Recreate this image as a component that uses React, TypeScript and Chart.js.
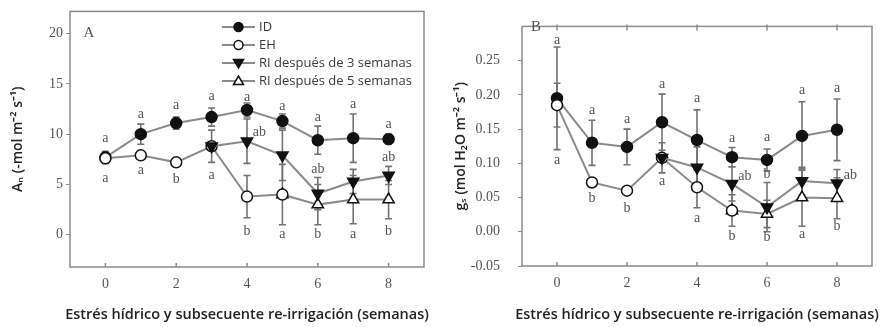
import React, { useEffect, useRef } from 'react';
import { Chart, registerables } from 'chart.js';
Chart.register(...registerables);

// ---------- data ----------
const seriesNames = ['ID', 'EH', 'RI después de 3 semanas', 'RI después de 5 semanas'];
const xAxisTitle = 'Estrés hídrico y subsecuente re-irrigación (semanas)';
const weeks = [0, 1, 2, 3, 4, 5, 6, 7, 8];
const ehWeeks = [0, 1, 2, 3, 4, 5];
const ri3Weeks = [3, 4, 5, 6, 7, 8];
const ri5Weeks = [5, 6, 7, 8];
const xTicks = [0, 2, 4, 6, 8];

// Panel A: An
const idA = [7.7, 10.0, 11.1, 11.7, 12.4, 11.3, 9.4, 9.6, 9.5];
const idAErr = [0.6, 1.0, 0.6, 0.9, 0.7, 0.7, 1.4, 2.4, 0.5];
const ehA = [7.6, 7.9, 7.2, 8.8, 3.8, 4.0];
const ehAErr = [0.5, 0, 0, 0, 2.1, 3.0];
const ri3A = [8.8, 9.3, 7.9, 4.1, 5.3, 5.9];
const ri3AErr = [1.6, 2.2, 2.5, 1.6, 1.2, 0.9];
const ri5A = [4.0, 3.0, 3.5, 3.5];
const ri5AErr = [0, 2.0, 2.4, 1.9];
const yTicksA = [0, 5, 10, 15, 20];
const lettersA: [number, number, string][] = [
  [0, 9.55, 'a'], [0, 5.6, 'a'],
  [1, 12.0, 'a'], [1, 6.4, 'a'],
  [2, 12.9, 'a'], [2, 5.5, 'b'],
  [3, 13.8, 'a'], [3, 5.9, 'a'],
  [4, 13.7, 'a'], [4.35, 10.2, 'ab'], [4, 0.3, 'b'],
  [5, 12.8, 'a'], [5, 0.0, 'a'],
  [6, 11.65, 'a'], [6, 6.5, 'ab'], [6, 0.0, 'b'],
  [7, 13.0, 'a'], [7, 0.0, 'a'],
  [8, 11.0, 'a'], [8, 7.7, 'ab'], [8, 0.3, 'b'],
];

// Panel B: gs
const idB = [0.195, 0.130, 0.124, 0.160, 0.134, 0.109, 0.105, 0.140, 0.149];
const idBErr = [0.075, 0.033, 0.026, 0.041, 0.044, 0.014, 0.016, 0.050, 0.045];
const ehB = [0.185, 0.072, 0.060, 0.108, 0.065, 0.031];
const ehBErr = [0.032, 0, 0, 0, 0.030, 0.023];
const ri3B = [0.108, 0.094, 0.070, 0.036, 0.074, 0.071];
const ri3BErr = [0.022, 0.030, 0.025, 0.036, 0.020, 0.020];
const ri5B = [0.031, 0.026, 0.050, 0.049];
const ri5BErr = [0, 0.020, 0.042, 0.030];
const yTicksB = [-0.05, 0, 0.05, 0.1, 0.15, 0.2, 0.25];
const lettersB: [number, number, string][] = [
  [0, 0.279, 'a'], [0, 0.105, 'a'],
  [1, 0.178, 'a'], [1, 0.049, 'b'],
  [2, 0.164, 'a'], [2, 0.034, 'b'],
  [3, 0.216, 'a'], [3, 0.073, 'a'],
  [4, 0.195, 'a'], [4, 0.019, 'a'],
  [5, 0.137, 'a'], [5.37, 0.081, 'ab'], [5, -0.006, 'b'],
  [6, 0.138, 'a'], [6, 0.084, 'b'], [6, -0.008, 'b'],
  [7, 0.206, 'a'], [7, -0.004, 'a'],
  [8, 0.209, 'a'], [8.38, 0.083, 'ab'], [8, 0.008, 'b'],
];

// ---------- styles ----------
const LINE = 'rgb(138,138,138)';
const MARK = '#111';
const AXIS = '#8a8a8a';
const ERR = '#727272';
const TXT = '#555';
const TITLE_FONT = '"Open Sans", sans-serif';
const SERIF = '"Liberation Serif", "DejaVu Serif", serif';

const pts = (xs: number[], ys: number[]) => xs.map((x, i) => ({ x, y: ys[i] }));

function makeDatasets(id: number[], idE: number[], eh: number[], ehE: number[], r3: number[], r3E: number[], r5: number[], r5E: number[]) {
  const base = { borderColor: LINE, borderWidth: 2, pointBorderColor: MARK, pointBorderWidth: 1.5 };
  return [
    { ...base, label: seriesNames[0], data: pts(weeks, id), errors: idE, pointStyle: 'circle', pointRadius: 5.5, pointBackgroundColor: MARK, order: 3 },
    { ...base, label: seriesNames[1], data: pts(ehWeeks, eh), errors: ehE, pointStyle: 'circle', pointRadius: 5.5, pointBackgroundColor: '#fff', order: 1 },
    { ...base, label: seriesNames[2], data: pts(ri3Weeks, r3), errors: r3E, pointStyle: 'triangle', rotation: 180, pointRadius: 6.5, pointBackgroundColor: MARK, order: 0 },
    { ...base, label: seriesNames[3], data: pts(ri5Weeks, r5), errors: r5E, pointStyle: 'triangle', pointRadius: 6.5, pointBackgroundColor: '#fff', order: 2 },
  ];
}

function drawMarker(ctx: CanvasRenderingContext2D, kind: number, x: number, y: number) {
  ctx.save();
  ctx.lineWidth = 1.5;
  ctx.strokeStyle = MARK;
  ctx.fillStyle = kind === 0 || kind === 2 ? MARK : '#fff';
  ctx.beginPath();
  if (kind < 2) {
    ctx.arc(x, y, 4.5, 0, Math.PI * 2);
  } else if (kind === 2) {
    ctx.moveTo(x - 5, y - 3.5); ctx.lineTo(x + 5, y - 3.5); ctx.lineTo(x, y + 5); ctx.closePath();
  } else {
    ctx.moveTo(x - 5, y + 3.5); ctx.lineTo(x + 5, y + 3.5); ctx.lineTo(x, y - 5); ctx.closePath();
  }
  ctx.fill(); ctx.stroke();
  ctx.restore();
}

type Cfg = {
  key: string; width: number; yWidth: number; xHeight: number; padTop: number; padRight: number;
  yMin: number; yMax: number; yTicks: number[]; yFmt: (v: number) => string; yTickPad: number;
  yTitle: string; yTitlePad: number; letters: [number, number, string][]; panel: string;
  panelPos: [number, number]; legend: boolean; topTicks: boolean; datasets: any[];
};

function decor(cfg: Cfg) {
  return {
    id: 'decor' + cfg.key,
    beforeDatasetsDraw(chart: any) {
      const { ctx, scales: { x, y } } = chart;
      ctx.save();
      ctx.strokeStyle = ERR;
      ctx.lineWidth = 1.6;
      chart.data.datasets.forEach((ds: any) => {
        ds.data.forEach((p: any, i: number) => {
          const e = ds.errors[i];
          if (!e) return;
          const px = x.getPixelForValue(p.x);
          const y1 = y.getPixelForValue(p.y + e);
          const y2 = y.getPixelForValue(p.y - e);
          ctx.beginPath();
          ctx.moveTo(px, y1); ctx.lineTo(px, y2);
          ctx.moveTo(px - 3.5, y1); ctx.lineTo(px + 3.5, y1);
          ctx.moveTo(px - 3.5, y2); ctx.lineTo(px + 3.5, y2);
          ctx.stroke();
        });
      });
      ctx.restore();
    },
    afterDraw(chart: any) {
      const { ctx, chartArea: ca, scales: { x, y } } = chart;
      ctx.save();
      // box
      ctx.strokeStyle = AXIS;
      ctx.lineWidth = 1.5;
      ctx.strokeRect(ca.left, ca.top, ca.right - ca.left, ca.bottom - ca.top);
      // inside x ticks (bottom) and top ticks
      ctx.beginPath();
      xTicks.forEach((t) => {
        const px = x.getPixelForValue(t);
        ctx.moveTo(px, ca.bottom); ctx.lineTo(px, ca.bottom - 4);
        if (cfg.topTicks) { ctx.moveTo(px, ca.top - 2); ctx.lineTo(px, ca.top + 4); }
      });
      ctx.stroke();
      // x axis title (wider than plot area, drawn without squeezing)
      ctx.fillStyle = '#222';
      ctx.font = '600 14.5px ' + TITLE_FONT;
      ctx.textAlign = 'center';
      ctx.textBaseline = 'middle';
      ctx.fillText(xAxisTitle, (ca.left + ca.right) / 2, 315);
      // significance letters
      ctx.fillStyle = TXT;
      ctx.font = '14px ' + SERIF;
      cfg.letters.forEach(([lx, ly, t]) => {
        ctx.fillText(t, x.getPixelForValue(lx), y.getPixelForValue(ly));
      });
      // panel label
      ctx.font = '15px ' + SERIF;
      ctx.fillText(cfg.panel, cfg.panelPos[0], cfg.panelPos[1]);
      // legend
      if (cfg.legend) {
        const rows = [27, 45, 63, 81];
        rows.forEach((ry, k) => {
          ctx.strokeStyle = LINE;
          ctx.lineWidth = 2;
          ctx.beginPath(); ctx.moveTo(222, ry); ctx.lineTo(255, ry); ctx.stroke();
          drawMarker(ctx, k, 238.5, ry);
          ctx.fillStyle = '#3a3a3a';
          ctx.font = '13px ' + TITLE_FONT;
          ctx.textAlign = 'left';
          ctx.textBaseline = 'middle';
          ctx.fillText(seriesNames[k], 259, ry);
        });
      }
      ctx.restore();
    },
  };
}

const cfgA: Cfg = {
  key: 'A', width: 440, yWidth: 70, xHeight: 60, padTop: 10, padRight: 16,
  yMin: -3.2, yMax: 22.2, yTicks: yTicksA, yFmt: (v) => String(v), yTickPad: 3,
  yTitle: 'Aₙ (-mol m⁻² s⁻¹)', yTitlePad: 10, letters: lettersA, panel: 'A', panelPos: [89, 33],
  legend: true, topTicks: false,
  datasets: makeDatasets(idA, idAErr, ehA, ehAErr, ri3A, ri3AErr, ri5A, ri5AErr),
};

const cfgB: Cfg = {
  key: 'B', width: 442, yWidth: 82, xHeight: 61, padTop: 12, padRight: 10,
  yMin: -0.05, yMax: 0.3, yTicks: yTicksB, yFmt: (v) => v.toFixed(2), yTickPad: 18,
  yTitle: 'gₛ (mol H₂O m⁻² s⁻¹)', yTitlePad: 13, letters: lettersB, panel: 'B', panelPos: [96, 27],
  legend: false, topTicks: true,
  datasets: makeDatasets(idB, idBErr, ehB, ehBErr, ri3B, ri3BErr, ri5B, ri5BErr),
};

function Panel({ cfg }: { cfg: Cfg }) {
  const ref = useRef<HTMLCanvasElement>(null);
  useEffect(() => {
    if (!ref.current) return;
    const chart = new Chart(ref.current, {
      type: 'line',
      data: { datasets: cfg.datasets as any },
      options: {
        responsive: false,
        animation: false,
        devicePixelRatio: 1,
        layout: { padding: { top: cfg.padTop, right: cfg.padRight, left: 0, bottom: 0 } },
        plugins: { legend: { display: false }, tooltip: { enabled: false } },
        scales: {
          x: {
            type: 'linear', min: -1, max: 9,
            afterBuildTicks: (s: any) => { s.ticks = xTicks.map((v) => ({ value: v })); },
            afterFit: (s: any) => { s.height = cfg.xHeight; },
            grid: { display: true, drawOnChartArea: false, drawTicks: false, color: AXIS },
            border: { display: false },
            ticks: { color: TXT, font: { family: SERIF, size: 14 }, padding: 9, maxRotation: 0 },
            title: { display: false },
          },
          y: {
            type: 'linear', min: cfg.yMin, max: cfg.yMax,
            afterBuildTicks: (s: any) => { s.ticks = cfg.yTicks.map((v) => ({ value: v })); },
            afterFit: (s: any) => { s.width = cfg.yWidth; },
            grid: { display: true, drawOnChartArea: false, drawTicks: true, tickLength: 4, color: AXIS },
            border: { display: false },
            ticks: { color: TXT, font: { family: SERIF, size: 14 }, padding: cfg.yTickPad, callback: (v: any) => cfg.yFmt(Number(v)) },
            title: {
              display: true, text: cfg.yTitle,
              color: '#222', font: { family: TITLE_FONT, size: 14, weight: '600' as any },
              padding: { top: cfg.yTitlePad, bottom: 0 },
            },
          },
        },
      },
      plugins: [decor(cfg)],
    });
    return () => chart.destroy();
  }, [cfg]);
  return <canvas ref={ref} width={cfg.width} height={327} style={{ display: 'block', width: cfg.width, height: 327 }} />;
}

export default function App() {
  return (
    <div style={{ position: 'absolute', left: 0, top: 0, width: 882, height: 327, display: 'flex', background: '#fff' }}>
      <Panel cfg={cfgA} />
      <Panel cfg={cfgB} />
    </div>
  );
}
